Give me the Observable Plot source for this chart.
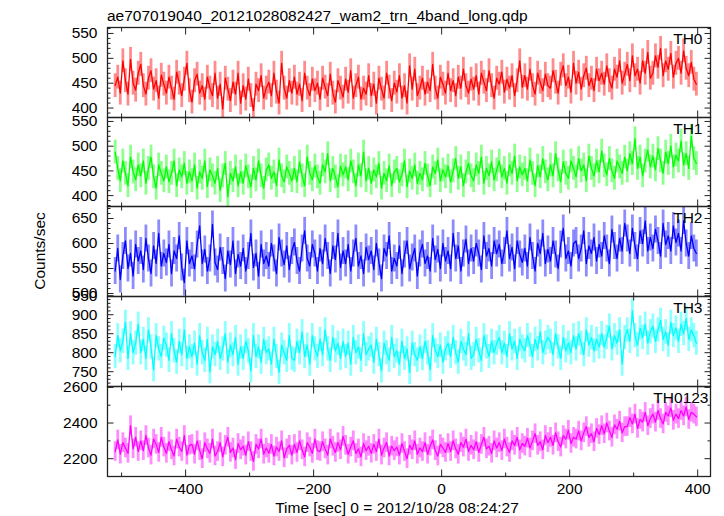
<!DOCTYPE html>
<html><head><meta charset="utf-8">
<script src="https://cdn.jsdelivr.net/npm/d3@7"></script>
<script src="https://cdn.jsdelivr.net/npm/@observablehq/plot@0.6"></script>
<style>
body{margin:0;background:#fff;}
#wrap{position:relative;width:724px;height:516px;font-family:"Liberation Sans",Arial,Helvetica,sans-serif;font-size:15.5px;color:#000;overflow:hidden;background:#fff;}
.abs{position:absolute;white-space:nowrap;line-height:15.5px;}
</style></head><body><div id="wrap"></div>
<script>
const titleText = "ae707019040_20121028082427_wam2_trn_4band_long.qdp";
const xLabel = "Time [sec] 0 = 2012/10/28 08:24:27";
const yLabel = "Counts/sec";
const bandNames = ["TH0", "TH1", "TH2", "TH3", "TH0123"];
const binStart = -510, binWidth = 4;

const th0 = [445,462,430,495,455,428,498,450,436,470, 488,445,428,460,475,438,455,420,466,448,
430,462,440,418,472,450,425,458,490,435, 412,455,468,430,445,418,462,440,425,470,
420,448,398,460,438,415,452,428,470,410, 445,418,458,425,395,448,435,465,420,440,
452,425,470,432,410,490,440,420,455,430, 462,428,448,415,470,440,425,458,435,450,
418,460,442,425,468,430,412,455,440,422, 458,432,475,420,445,462,418,440,428,465,
425,448,410,460,438,420,470,442,415,450, 432,465,420,445,410,485,438,478,425,440,
460,428,452,435,488,440,420,462,448,430, 470,435,455,425,462,440,478,445,430,458,
438,465,428,470,452,435,475,445,420,460, 448,472,432,458,440,465,425,455,495,442,
465,438,478,445,428,470,452,435,468,445, 440,475,452,430,468,485,445,462,432,490,
450,472,438,465,480,445,460,435,478,455, 470,448,485,455,440,478,462,495,450,468,
488,455,505,465,478,450,495,470,512,460, 470,505,482,520,465,495,478,510,462,490,
500,470,515,480,465,492,458,448];

const th1 = [488,455,430,470,445,420,478,448,432,462, 440,470,425,455,478,438,415,462,445,430,
458,428,445,470,420,452,438,465,425,448, 430,462,415,448,435,470,418,452,440,425,
455,410,440,465,398,445,430,458,420,448, 425,460,438,418,455,432,470,440,415,452,
462,435,448,420,472,440,428,458,445,430, 455,428,468,440,420,478,445,432,460,438,
425,462,448,485,430,455,438,418,460,442, 458,432,470,448,420,462,440,488,430,455,
425,452,438,465,415,445,430,460,420,448, 455,428,442,470,418,450,435,462,425,445,
432,465,440,420,458,445,472,430,452,438, 460,428,450,475,435,458,420,448,465,440,
430,462,445,478,425,455,440,468,432,452, 470,438,455,425,462,445,480,430,458,442,
455,430,472,445,420,460,438,475,448,432, 462,440,485,452,428,468,445,435,470,455,
438,475,450,462,430,480,455,440,470,448, 490,460,442,475,450,435,470,458,445,478,
450,485,465,515,455,478,440,470,492,458, 480,452,495,470,445,488,465,500,458,482,
470,510,462,485,455,520,475,465];

const th2 = [545,590,528,575,605,550,580,535,598,565, 585,548,610,570,540,595,560,620,555,580,
562,598,540,585,570,615,552,522,605,560, 575,550,598,635,560,588,545,570,638,562,
548,592,565,530,585,558,605,540,578,555, 590,545,575,620,552,580,535,598,560,575,
555,600,570,540,612,580,558,595,548,585, 602,565,545,590,625,570,555,598,580,545,
590,560,610,575,540,595,568,620,552,585, 560,598,545,580,610,555,575,540,592,568,
585,548,600,562,530,590,575,615,545,570, 555,595,540,578,605,550,572,590,535,580,
598,560,575,545,610,568,588,550,600,565, 585,550,620,570,595,545,580,608,560,590,
565,600,580,548,615,575,590,555,605,580, 598,560,585,625,570,592,550,605,578,562,
590,555,612,575,545,600,580,620,560,588, 565,605,578,550,598,630,570,585,555,600,
605,570,590,625,560,595,580,612,565,598, 575,615,590,560,628,595,570,610,585,640,
610,580,630,595,570,625,600,645,585,612, 590,628,605,575,640,598,615,585,635,602,
620,585,645,600,575,615,590,580];

const th3 = [790,845,805,830,880,785,850,800,825,875, 800,835,785,860,815,755,845,810,790,838,
820,780,850,805,775,830,795,860,785,815, 790,825,770,845,800,780,835,750,815,795,
830,785,810,850,775,820,795,840,770,815, 785,830,805,752,845,790,815,775,835,800,
810,770,835,790,748,820,800,780,845,785, 780,830,800,855,790,820,770,845,810,790,
835,795,860,810,780,840,805,825,785,830, 790,825,770,840,800,815,780,850,795,810,
820,775,835,795,752,825,800,780,840,790, 805,770,830,785,810,748,825,795,780,815,
785,830,800,755,845,805,790,820,775,810, 825,790,840,800,775,830,810,795,850,785,
795,835,805,780,845,815,790,830,800,825, 840,800,825,790,850,810,830,785,835,815,
805,845,820,790,835,810,855,800,825,840, 830,795,850,815,785,840,805,825,800,845,
810,850,825,795,860,820,840,805,835,815, 850,815,840,870,810,845,825,860,770,840,
860,830,910,845,820,865,840,875,825,855, 870,830,860,885,835,855,820,880,845,865,
830,875,850,890,835,860,845,825];

const th0123 = [2240,2305,2225,2290,2260,2230,2385,2255,2320,2240, 2300,2245,2330,2260,2220,2310,2280,2235,2320,2265,
2230,2295,2250,2215,2310,2265,2240,2330,2220,2275, 2280,2225,2300,2245,2200,2290,2255,2230,2310,2215,
2240,2290,2210,2275,2320,2235,2260,2195,2285,2250, 2270,2220,2295,2240,2185,2280,2255,2310,2225,2260,
2230,2280,2215,2265,2240,2300,2205,2255,2275,2220, 2280,2235,2300,2250,2210,2290,2265,2230,2310,2245,
2240,2295,2255,2220,2310,2270,2235,2290,2250,2325, 2275,2225,2265,2300,2230,2255,2210,2285,2245,2270,
2230,2280,2240,2310,2220,2260,2290,2215,2270,2245, 2265,2220,2285,2240,2200,2275,2250,2300,2225,2260,
2240,2290,2225,2270,2305,2245,2215,2280,2260,2235, 2285,2240,2300,2255,2225,2290,2265,2310,2240,2275,
2250,2295,2235,2280,2320,2255,2270,2230,2300,2260, 2290,2245,2310,2265,2235,2300,2275,2320,2250,2285,
2270,2315,2260,2300,2340,2275,2295,2250,2330,2290, 2320,2275,2345,2295,2265,2330,2310,2360,2285,2320,
2310,2355,2300,2345,2380,2320,2340,2295,2370,2335, 2385,2340,2400,2355,2320,2390,2365,2410,2345,2380,
2380,2430,2395,2450,2370,2420,2405,2460,2385,2425, 2450,2405,2470,2425,2395,2460,2440,2485,2415,2450,
2425,2470,2440,2490,2420,2460,2450,2435];

const series = [th0, th1, th2, th3, th0123];
const errors = [24, 24, 27, 32, 55];
const colors = ["#ff0000", "#00ff00", "#0000ff", "#00ffff", "#ff00ff"];
const yDomains = [[381, 562], [378, 558], [494, 674], [711, 948], [2100, 2605]];
const yMajorTicks = [[400, 450, 500, 550], [400, 450, 500, 550], [500, 550, 600, 650], [750, 800, 850, 900, 950], [2200, 2400, 2600]];
const yMinorStep = [10, 10, 10, 10, 100];
const xDomain = [-522, 420];
const xMajorTicks = [-400, -200, 0, 200, 400];
const xMinorTicks = [-500, -300, -100, 100, 300];

// layout
const panelTops = [27, 117, 206, 296, 386, 476];
const labelDx = [-8, -8, -8, -8, -2];
const majorLen = 6.5, minorLen = 3.5;
const frameColor = "#222";

const wrap = document.getElementById("wrap");

function addText(txt, css) {
  const d = document.createElement("div");
  d.className = "abs";
  d.textContent = txt;
  Object.assign(d.style, css);
  wrap.appendChild(d);
}

series.forEach((vals, i) => {
  const err = errors[i];
  const data = vals.map((v, j) => ({t: binStart + j * binWidth, v, lo: v - err, hi: v + err}));
  const [y0, y1] = yDomains[i];
  const major = yMajorTicks[i];
  const minor = d3.range(Math.ceil(y0 / yMinorStep[i]) * yMinorStep[i], y1, yMinorStep[i]).filter(d => !major.includes(d));
  const h = panelTops[i + 1] - panelTops[i];
  const last = i === series.length - 1;
  const tc = {stroke: frameColor, fill: "none", label: null};
  const marks = [
    Plot.ruleX(data, {x: "t", y1: "lo", y2: "hi", stroke: colors[i], strokeOpacity: 0.45, strokeWidth: 2.8, clip: true}),
    Plot.line(data, {x: "t", y: "v", stroke: colors[i], strokeWidth: 1.3, clip: true}),
    Plot.axisY({ticks: major, anchor: "left", tickSize: majorLen, dx: majorLen, tickPadding: 10, tickFormat: "d", label: null, stroke: frameColor, fill: "black"}),
    Plot.axisY({ticks: minor, anchor: "left", tickSize: minorLen, dx: minorLen, ...tc}),
    Plot.axisY({ticks: major, anchor: "right", tickSize: majorLen, dx: -majorLen, ...tc}),
    Plot.axisY({ticks: minor, anchor: "right", tickSize: minorLen, dx: -minorLen, ...tc}),
    Plot.axisX({ticks: xMajorTicks, anchor: "bottom", tickSize: majorLen, dy: -majorLen, ...tc}),
    Plot.axisX({ticks: xMinorTicks, anchor: "bottom", tickSize: minorLen, dy: -minorLen, ...tc}),
    Plot.axisX({ticks: xMajorTicks, anchor: "top", tickSize: majorLen, dy: majorLen, ...tc}),
    Plot.axisX({ticks: xMinorTicks, anchor: "top", tickSize: minorLen, dy: minorLen, ...tc}),
  ];
  if (last) {
    marks.push(Plot.axisX({ticks: xMajorTicks, anchor: "bottom", tickSize: 0, tickPadding: 6, tickFormat: "d", label: null, fill: "black"}));
  }
  marks.push(Plot.frame({stroke: frameColor, strokeWidth: 1.3}));
  marks.push(Plot.text([bandNames[i]], {frameAnchor: "top-right", dx: labelDx[i], dy: 5, textAnchor: "end", lineAnchor: "top", fill: "black", fontSize: 15.5}));

  const svg = Plot.plot({
    width: 724, height: h,
    marginLeft: 107, marginRight: 14, marginTop: 0, marginBottom: 0,
    x: {domain: xDomain},
    y: {domain: yDomains[i]},
    style: {overflow: "visible", background: "transparent", fontFamily: "'Liberation Sans', Arial, Helvetica, sans-serif", fontSize: "15.5px", color: "black"},
    marks
  });
  svg.style.position = "absolute";
  svg.style.left = "0px";
  svg.style.top = panelTops[i] + "px";
  wrap.appendChild(svg);
});

addText(titleText, {left: "107px", top: "7.5px"});
addText(xLabel, {left: "397px", top: "499.5px", transform: "translateX(-50%)"});
addText(yLabel, {left: "40px", top: "251px", transform: "translate(-50%,-50%) rotate(-90deg)"});
</script></body></html>
